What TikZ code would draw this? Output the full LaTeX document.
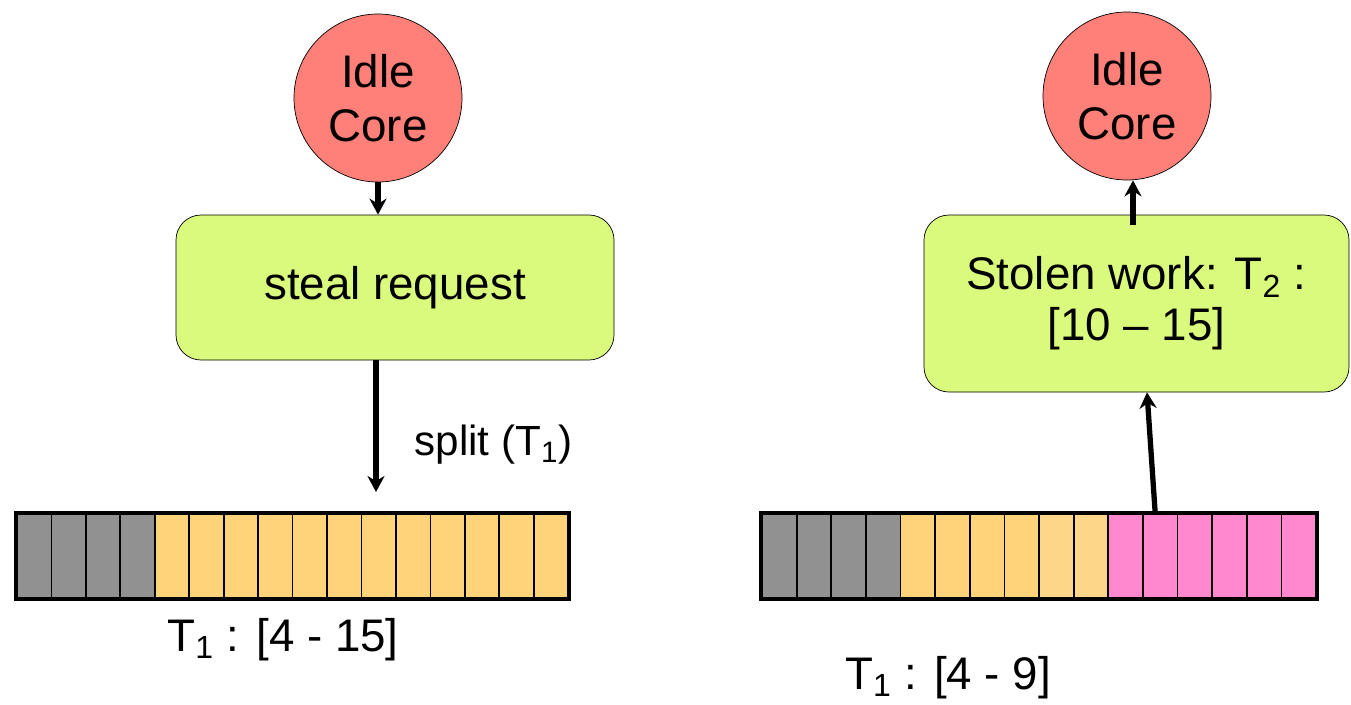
\documentclass[tikz,border=0pt]{standalone}
\usepackage{fontspec}
\setmainfont{Liberation Sans}
\usepackage{tikz}
\usetikzlibrary{calc, shapes, fit, arrows.meta}

\definecolor{idlered}{HTML}{FF7F79}
\definecolor{reqgreen}{HTML}{D9FA7C}
\definecolor{donegray}{HTML}{919191}
\definecolor{workorange}{HTML}{FED37A}
\definecolor{lightorange}{HTML}{FED68A}
\definecolor{stolenpink}{HTML}{FF88CF}

\tikzset{
  core/.style={draw=black, circle, fill=idlered, minimum size=3.36cm, inner sep=0pt, align=center, font=\fontsize{26}{31}\selectfont},
  request/.style={draw=black, rectangle, rounded corners=0.5cm, fill=reqgreen, inner sep=0pt, align=center, font=\fontsize{26}{29}\selectfont},
  cell/.style={draw=black, line width=1pt, rectangle, inner sep=0pt, minimum height=1.68cm},
  flow/.style={line width=3pt, -{Stealth[length=0.32cm, width=0.34cm]}}
}

\begin{document}
\begin{tikzpicture}
			\useasboundingbox (0,0) rectangle (27.02,-14.08);

			% left: steal request
			\node (idleL) [core] at (7.56,-1.96){Idle\\Core};
			\node (reqL) [request, minimum width=8.76cm, minimum height=2.9cm] at (7.9,-5.75){steal request};
			\coordinate (splitend) at (7.52,-9.84);
			\node (splitlbl) [font=\fontsize{24}{28}\selectfont] at (9.87,-8.9){split (T\textsubscript{1})};

			\draw[flow] (idleL.south) -- (idleL.south |- reqL.north);
			\draw[flow] (reqL.south -| splitend) -- (splitend);

			\foreach \i in {1,...,16}{
				\ifnum\i<5 \def\cellcol{donegray}\else \def\cellcol{workorange}\fi
				\node (lc\i) [cell, fill=\cellcol, minimum width=0.689cm] at ({0.34+0.689*(\i-0.5)},-11.12){};
			}
			\node (arrL) [fit=(lc1)(lc16), draw, line width=2.6pt, inner sep=0pt] {};
			\node (tL) [font=\fontsize{26}{31}\selectfont] at (5.66,-12.8){T\textsubscript{1} : [4 - 15]};

			% right: stolen work
			\node (idleR) [core] at (22.54,-1.92){Idle\\Core};
			\node (stolen) [request, minimum width=8.5cm, minimum height=3.54cm] at (22.73,-6.07){Stolen work: T\textsubscript{2} :\\{}[10 – 15]};
			\coordinate (upR) at (22.66,-4.5);

			\draw[flow] (upR) -- (upR |- idleR.south);

			\foreach \i in {1,...,16}{
				\ifnum\i<5 \def\cellcol{donegray}\else
					\ifnum\i<9 \def\cellcol{workorange}\else
						\ifnum\i<11 \def\cellcol{lightorange}\else \def\cellcol{stolenpink}\fi\fi\fi
				\node (rc\i) [cell, fill=\cellcol, minimum width=0.6925cm] at ({15.24+0.6925*(\i-0.5)},-11.12){};
			}
			\node (arrR) [fit=(rc1)(rc16), draw, line width=2.6pt, inner sep=0pt] {};
			\node (tR) [font=\fontsize{26}{31}\selectfont] at (18.96,-13.56){T\textsubscript{1} : [4 - 9]};

			\draw[flow] ([xshift=-0.1cm]rc12.north) -- ([xshift=0.21cm]stolen.south);

		\end{tikzpicture}
\end{document}
